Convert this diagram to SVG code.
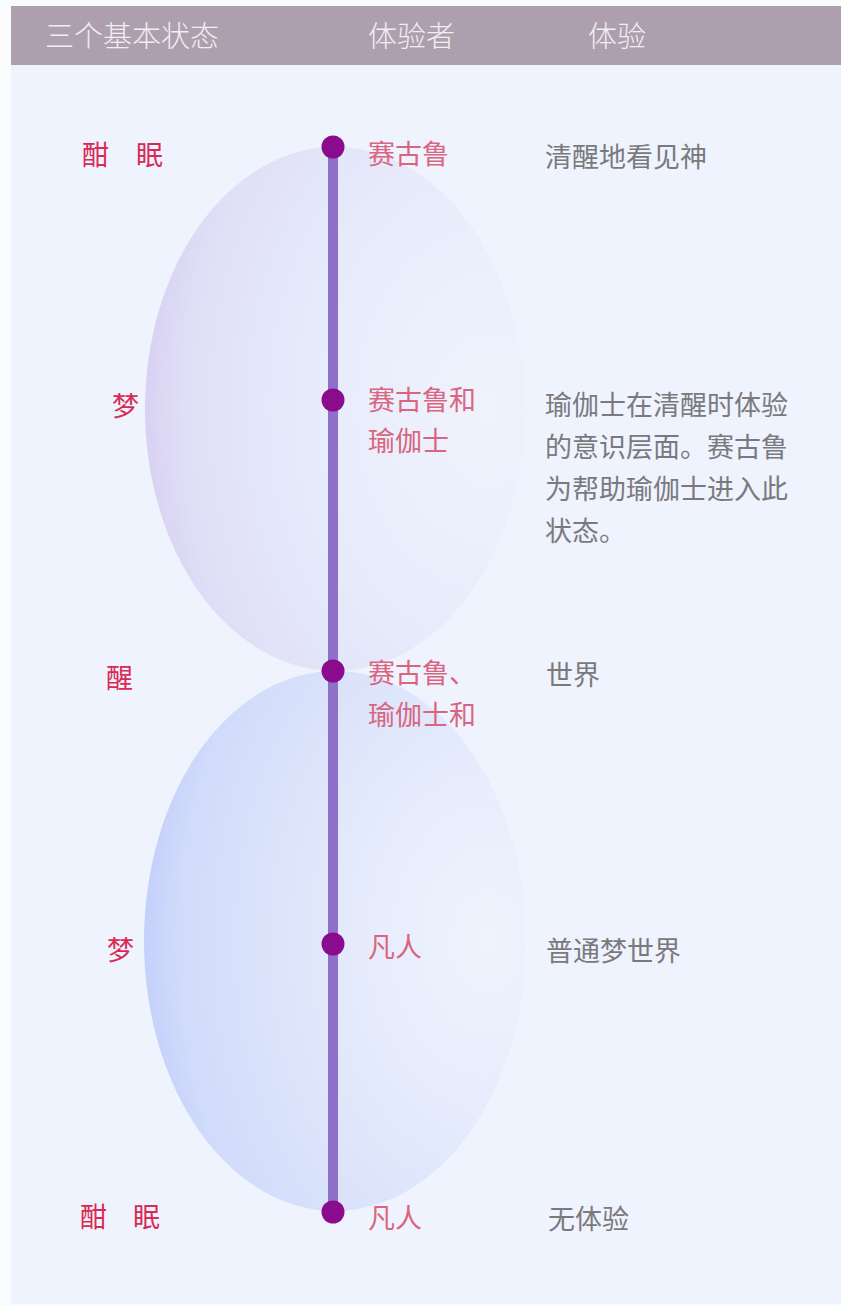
<svg xmlns="http://www.w3.org/2000/svg" width="841" height="1306" viewBox="0 0 841 1306">
<defs>
<style>
.hdr{font-family:"Noto Sans CJK SC","Noto Sans",sans-serif;font-size:29px;font-weight:300;fill:#f1eef2}
.st{font-family:"Noto Sans CJK SC","Noto Sans",sans-serif;font-size:27px;fill:#d82a55}
.who{font-family:"Noto Sans CJK SC","Noto Sans",sans-serif;font-size:27px;fill:#da6580}
.exp{font-family:"Noto Sans CJK SC","Noto Sans",sans-serif;font-size:27px;fill:#7a7a7e}
.dot{fill:#8a0c8c}
</style>
<radialGradient id="gTop" cx="0.9" cy="0.5" r="0.95">
<stop offset="0" stop-color="#eff3fd"/>
<stop offset="0.3" stop-color="#ebeffc"/>
<stop offset="0.6" stop-color="#e5e8fa"/>
<stop offset="0.85" stop-color="#dfdef6"/>
<stop offset="0.95" stop-color="#d7d1f2"/>
<stop offset="1" stop-color="#cdc3ee"/>
</radialGradient>
<radialGradient id="gBot" cx="0.9" cy="0.5" r="0.95">
<stop offset="0" stop-color="#eff3fd"/>
<stop offset="0.3" stop-color="#e7edfc"/>
<stop offset="0.6" stop-color="#dce4fb"/>
<stop offset="0.85" stop-color="#d1dbfa"/>
<stop offset="0.95" stop-color="#c3d0fb"/>
<stop offset="1" stop-color="#b5c5fb"/>
</radialGradient>
</defs>
<rect x="0" y="0" width="841" height="1306" fill="#fafbfd"/>
<rect x="11" y="6" width="830" height="1298" fill="#eff3fd"/>
<g id="header">
<rect x="11" y="6" width="830" height="59" fill="#ad9fae"/>
<text class="hdr" x="45" y="47">三个基本状态</text>
<text class="hdr" x="368" y="47">体验者</text>
<text class="hdr" x="588" y="47">体验</text>
</g>
<g id="bubbles">
<ellipse cx="335" cy="409" rx="190" ry="262" fill="url(#gTop)"/>
<ellipse cx="335" cy="941" rx="191" ry="270" fill="url(#gBot)"/>
</g>
<g id="connectors">
<line x1="333" y1="147" x2="333" y2="1212" stroke="#8f70c9" stroke-width="10"/>
</g>
<g id="node-deep-sleep-1">
<circle class="dot" cx="333" cy="147" r="11.5"/>
<text class="st" x="82" y="165">酣</text><text class="st" x="136" y="165">眠</text>
<text class="who" x="368" y="164">赛古鲁</text>
<text class="exp" x="545" y="167">清醒地看见神</text>
</g>
<g id="node-dream-1">
<circle class="dot" cx="333" cy="400" r="11.5"/>
<text class="st" x="112" y="416">梦</text>
<text class="who" x="368" y="410">赛古鲁和</text>
<text class="who" x="368" y="451">瑜伽士</text>
<text class="exp" x="545" y="415">瑜伽士在清醒时体验</text>
<text class="exp" x="545" y="457">的意识层面。赛古鲁</text>
<text class="exp" x="545" y="499">为帮助瑜伽士进入此</text>
<text class="exp" x="545" y="541">状态。</text>
</g>
<g id="node-waking">
<circle class="dot" cx="333" cy="671" r="11.5"/>
<text class="st" x="106" y="688">醒</text>
<text class="who" x="368" y="683">赛古鲁、</text>
<text class="who" x="368" y="725">瑜伽士和</text>
<text class="exp" x="546" y="685">世界</text>
</g>
<g id="node-dream-2">
<circle class="dot" cx="333" cy="944" r="11.5"/>
<text class="st" x="107" y="960">梦</text>
<text class="who" x="368" y="957">凡人</text>
<text class="exp" x="546" y="961">普通梦世界</text>
</g>
<g id="node-deep-sleep-2">
<circle class="dot" cx="333" cy="1212" r="11.5"/>
<text class="st" x="80" y="1227">酣</text><text class="st" x="133" y="1227">眠</text>
<text class="who" x="368" y="1228">凡人</text>
<text class="exp" x="548" y="1229">无体验</text>
</g>
</svg>
